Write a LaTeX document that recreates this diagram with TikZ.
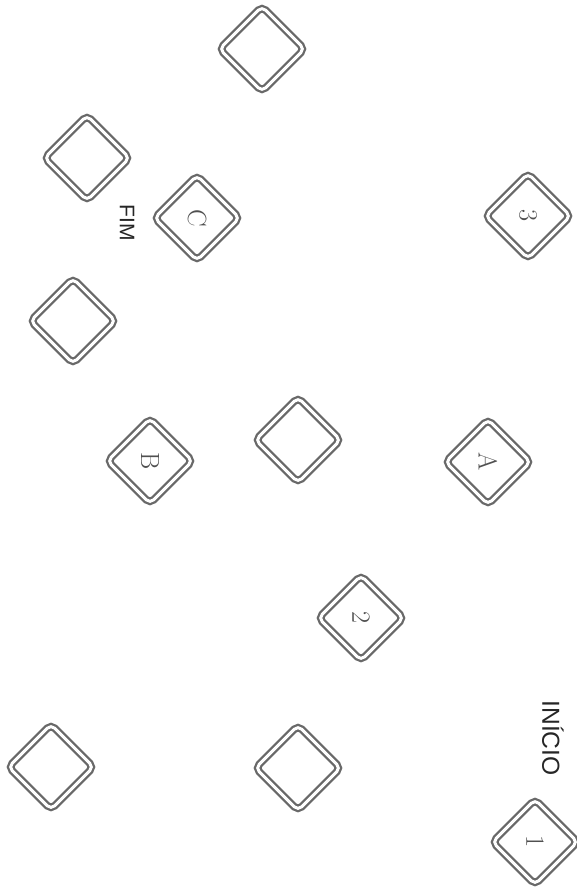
\documentclass[tikz,border=0pt]{standalone}
\usepackage{fontspec}
\newfontfamily\rotulo{Liberation Sans}
\usepackage{tikz}
\usetikzlibrary{shapes.geometric}
\definecolor{linha}{RGB}{105,105,105}
\definecolor{letra}{RGB}{80,80,80}
\tikzset{
  casa/.style={diamond, aspect=1, draw=linha, double=white, line width=1.3pt,
    double distance=1.7pt, rounded corners=3pt, minimum width=1.72cm,
    minimum height=1.72cm, inner sep=0pt, rotate=-90, text=letra,
    font=\fontsize{15}{17}\selectfont},
  marca/.style={rotate=-90, text=black!85, font=\rotulo\fontsize{14}{16}\selectfont}
}
\begin{document}
\begin{tikzpicture}[x=0.02cm, y=-0.02cm]
    \useasboundingbox[fill=white] (0,0) rectangle (577,895);
    % casas vazias
    \node[casa] (v1) at (262,49) {};
    \node[casa] (v2) at (87,158) {};
    \node[casa] (v3) at (73,321) {};
    \node[casa] (v4) at (298,440) {};
    \node[casa] (v5) at (51,767) {};
    \node[casa] (v6) at (298,768) {};
    % casas com nome
    \node[casa] (c1) at (535,842) {1};
    \node[casa] (c2) at (361,618) {2};
    \node[casa] (c3) at (528,216) {3};
    \node[casa] (cA) at (488,462) {A};
    \node[casa] (cB) at (150,461) {B};
    \node[casa] (cC) at (197,218) {C};
    % inicio e fim
    \node[marca] (inicio) at (553,738) {INÍCIO};
    \node[marca, font=\rotulo\fontsize{12}{14}\selectfont] (fim) at (127,223) {FIM};
\end{tikzpicture}
\end{document}
